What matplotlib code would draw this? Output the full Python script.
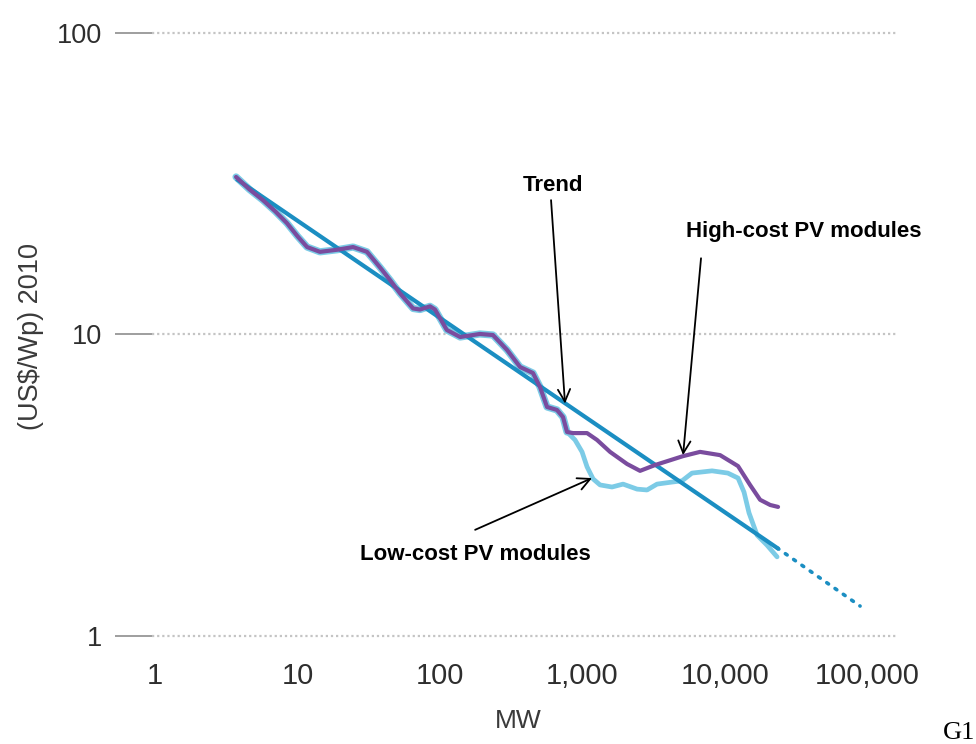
import matplotlib.pyplot as plt
from matplotlib.ticker import FixedLocator, NullLocator

plt.rcParams['font.family'] = ['Liberation Sans', 'DejaVu Sans']

# cumulative installed capacity (MW) vs module price (US$/Wp, 2010 dollars)
shared_mw = [3.71, 4.6, 5.73, 7.0, 8.45, 10.0, 11.7, 14.4, 19.0, 24.6, 30.8, 38.0,
             45.0, 52.5, 64.9, 72.6, 85.3, 92.5, 112, 139, 191, 236, 297, 366,
             451, 505, 566, 665, 733, 782]
shared_price = [33.3, 30.3, 27.9, 25.6, 23.4, 21.2, 19.5, 18.8, 19.1, 19.5, 18.8, 16.7,
                15.1, 13.7, 12.2, 12.1, 12.4, 12.1, 10.35, 9.81, 10.04, 9.96, 8.88, 7.80,
                7.45, 6.70, 5.75, 5.62, 5.32, 4.75]

high_mw = [861, 1081, 1270, 1568, 2064, 2547, 3246, 5106, 6718, 9290, 12420,
           15080, 17740, 20880, 23710]
high_price = [4.71, 4.71, 4.47, 4.08, 3.72, 3.53, 3.69, 3.95, 4.08, 3.98, 3.66,
              3.17, 2.83, 2.72, 2.68]

low_mw = [890, 997, 1081, 1191, 1334, 1619, 1935, 2428, 2851, 3352, 4271, 5018,
          5898, 8155, 10530, 12420, 13680, 14830, 16900, 19860, 23340]
low_price = [4.47, 4.08, 3.64, 3.32, 3.17, 3.12, 3.19, 3.07, 3.05, 3.19, 3.24, 3.27,
             3.47, 3.53, 3.47, 3.34, 3.00, 2.56, 2.16, 2.00, 1.83]

trend_mw = [3.83, 23340]
trend_price = [32.5, 1.96]
proj_mw = [23340, 89300]
proj_price = [1.96, 1.257]

xticks = [1, 10, 100, 1000, 10000, 100000]
xticklabels = ['1', '10', '100', '1,000', '10,000', '100,000']
yticks = [1, 10, 100]
yticklabels = ['1', '10', '100']

W, H = 976, 744
fig = plt.figure(figsize=(W / 100, H / 100), dpi=100)
ax = fig.add_axes([151.8 / W, 1 - 649.8 / H, 744.3 / W, 629.3 / H])
ax.set_xscale('log')
ax.set_yscale('log')
ax.set_xlim(0.95, 159900)
ax.set_ylim(0.9, 110)

for s in ax.spines.values():
    s.set_visible(False)

for y in yticks:
    ax.axhline(y, color='#c4c4c4', lw=1.6, ls=(0, (1, 1.3)), zorder=0)

c_trend = '#1b8ec2'
c_high = '#7a4c9e'
c_low = '#7ccbe6'

# low-cost curve: wide halo under the shared part, thinner once it splits off
ax.plot(shared_mw, shared_price, color=c_low, lw=5.2,
        solid_capstyle='round', solid_joinstyle='round', zorder=2)
ax.plot(shared_mw[-1:] + low_mw, shared_price[-1:] + low_price, color=c_low, lw=3.4,
        solid_capstyle='round', solid_joinstyle='round', zorder=2)
ax.plot(trend_mw, trend_price, color=c_trend, lw=3.0, zorder=3)
ax.plot(proj_mw, proj_price, color=c_trend, lw=2.6, ls=(0, (0.6, 2.2)),
        dash_capstyle='round', zorder=3)
ax.plot(shared_mw + high_mw, shared_price + high_price, color=c_high, lw=3.0,
        solid_capstyle='round', solid_joinstyle='round', zorder=4)

ax.xaxis.set_major_locator(FixedLocator(xticks))
ax.xaxis.set_minor_locator(NullLocator())
ax.set_xticklabels(xticklabels)
ax.yaxis.set_major_locator(FixedLocator(yticks))
ax.yaxis.set_minor_locator(NullLocator())
ax.set_yticklabels(yticklabels)
ax.tick_params(axis='x', length=0, pad=9, labelsize=21, labelcolor='#2e2e2e')
ax.tick_params(axis='y', length=26.6, width=1.4, color='#9e9e9e', pad=9,
               labelsize=19.5, labelcolor='#2e2e2e')

fig.text(31 / W, 1 - 336 / H, '(US$/Wp) 2010', rotation=90, fontsize=19.5,
         color='#3a3a3a', ha='center', va='center')
fig.text(518 / W, 1 - 721 / H, 'MW', fontsize=19, color='#3a3a3a',
         ha='center', va='center')
fig.text(959 / W, 1 - 733 / H, 'G1', fontsize=19, color='black',
         family='Liberation Serif', ha='center', va='center')

arrow = dict(arrowstyle='->', color='black', lw=1.3, mutation_scale=22,
             shrinkA=0, shrinkB=0)
ax.annotate('', xy=(757, 5.9), xytext=(604, 27.9), arrowprops=arrow)
ax.annotate('', xy=(5106, 3.98), xytext=(6825, 17.9), arrowprops=arrow)
ax.annotate('', xy=(1172, 3.34), xytext=(177, 2.25), arrowprops=arrow)

ax.text(624, 31.1, 'Trend', fontsize=16, fontweight='bold', ha='center',
        va='center')
ax.text(36100, 22.0, 'High-cost PV modules', fontsize=16, fontweight='bold',
        ha='center', va='center')
ax.text(177, 1.87, 'Low-cost PV modules', fontsize=16, fontweight='bold',
        ha='center', va='center')

fig.savefig('out.png', dpi=100)
